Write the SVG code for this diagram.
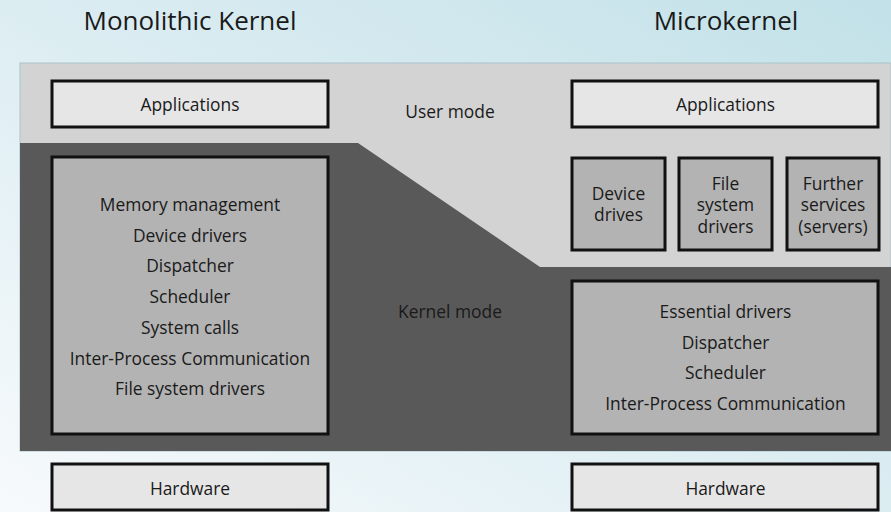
<svg xmlns="http://www.w3.org/2000/svg" width="891" height="512" viewBox="0 0 891 512">
<defs>
<linearGradient id="bg" x1="0" y1="1" x2="1" y2="0">
<stop offset="0" stop-color="#f7fafc"/>
<stop offset="0.5" stop-color="#dcedf2"/>
<stop offset="1" stop-color="#c2e1e8"/>
</linearGradient>
<style>
text{font-family:"Open Sans","Noto Sans","Liberation Sans",sans-serif;fill:#1a1a1a;text-anchor:middle}
.t{font-size:26px}
.b{font-size:17.4px}
.light{fill:#e6e6e6;stroke:#111;stroke-width:3}
.mid{fill:#b3b3b3;stroke:#111;stroke-width:3}
</style>
</defs>
<rect x="0" y="0" width="891" height="512" fill="url(#bg)"/>
<g id="band">
<rect x="20" y="63" width="871" height="388" fill="#d3d3d3" stroke="#a9c3cb" stroke-width="1"/>
<polygon points="20,143 358,143 540,267 891,267 891,451 20,451" fill="#595959"/>
</g>
<text class="t" x="190" y="30">Monolithic Kernel</text>
<text class="t" x="726" y="30">Microkernel</text>
<text class="b" x="450" y="118">User mode</text>
<text class="b" x="450" y="318">Kernel mode</text>
<g id="mono-apps">
<rect class="light" x="52" y="81" width="276" height="46"/>
<text class="b" x="190" y="111">Applications</text>
</g>
<g id="mono-kernel">
<rect class="mid" x="52" y="157" width="276" height="277"/>
<text class="b" x="190" y="211">Memory management</text>
<text class="b" x="190" y="241.7">Device drivers</text>
<text class="b" x="190" y="272.4">Dispatcher</text>
<text class="b" x="190" y="303.1">Scheduler</text>
<text class="b" x="190" y="333.8">System calls</text>
<text class="b" x="190" y="364.5">Inter-Process Communication</text>
<text class="b" x="190" y="395.2">File system drivers</text>
</g>
<g id="mono-hw">
<rect class="light" x="52" y="464" width="276" height="46"/>
<text class="b" x="190" y="495">Hardware</text>
</g>
<g id="micro-apps">
<rect class="light" x="572" y="81" width="306" height="46"/>
<text class="b" x="725.5" y="111">Applications</text>
</g>
<g id="micro-device">
<rect class="mid" x="572" y="158" width="93" height="92"/>
<text class="b" x="618.5" y="200">Device</text>
<text class="b" x="618.5" y="221">drives</text>
</g>
<g id="micro-fs">
<rect class="mid" x="679" y="158" width="93" height="92"/>
<text class="b" x="725.5" y="189.5">File</text>
<text class="b" x="725.5" y="211">system</text>
<text class="b" x="725.5" y="232.5">drivers</text>
</g>
<g id="micro-services">
<rect class="mid" x="787" y="158" width="92" height="92"/>
<text class="b" x="833" y="189.5">Further</text>
<text class="b" x="833" y="211">services</text>
<text class="b" x="833" y="232.5">(servers)</text>
</g>
<g id="micro-kernel">
<rect class="mid" x="572" y="281" width="306" height="153"/>
<text class="b" x="725.5" y="318">Essential drivers</text>
<text class="b" x="725.5" y="348.5">Dispatcher</text>
<text class="b" x="725.5" y="379">Scheduler</text>
<text class="b" x="725.5" y="409.5">Inter-Process Communication</text>
</g>
<g id="micro-hw">
<rect class="light" x="572" y="464" width="306" height="46"/>
<text class="b" x="725.5" y="495">Hardware</text>
</g>
<g id="connectors"/>
</svg>
